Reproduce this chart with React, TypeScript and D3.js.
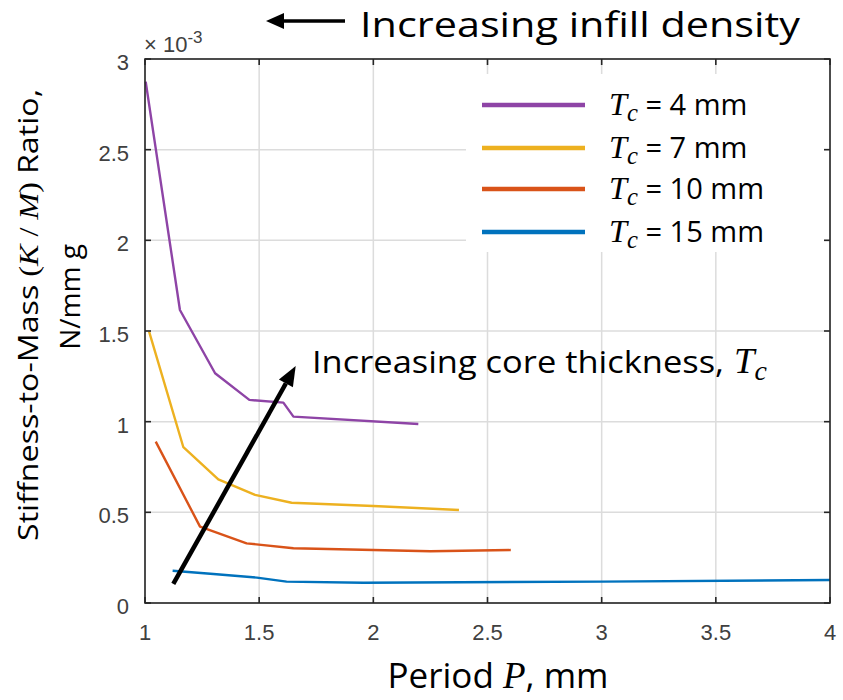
import React from "react";
import * as d3 from "d3";

const P4 = [1.003, 1.153, 1.307, 1.457, 1.606, 1.65, 2.197];
const K4 = [2.875, 1.616, 1.267, 1.12, 1.105, 1.028, 0.987];
const P7 = [1.018, 1.168, 1.321, 1.482, 1.642, 2.0, 2.375];
const K7 = [1.497, 0.859, 0.682, 0.596, 0.553, 0.535, 0.513];
const P10 = [1.047, 1.241, 1.445, 1.65, 2.25, 2.602];
const K10 = [0.89, 0.421, 0.329, 0.302, 0.285, 0.292];
const P15 = [1.121, 1.3, 1.49, 1.62, 1.956, 3.0, 4.0];
const K15 = [0.178, 0.16, 0.14, 0.118, 0.112, 0.118, 0.127];

const seriesNames = ["4", "7", "10", "15"];
const seriesColors = ["#8E44A6", "#EDB120", "#D95319", "#0072BD"];
const seriesP = [P4, P7, P10, P15];
const seriesK = [K4, K7, K10, K15];

const xTicks = [1, 1.5, 2, 2.5, 3, 3.5, 4];
const xTickLabels = ["1", "1.5", "2", "2.5", "3", "3.5", "4"];
const yTicks = [0, 0.5, 1, 1.5, 2, 2.5, 3];
const yTickLabels = ["0", "0.5", "1", "1.5", "2", "2.5", "3"];

// arrow annotation (data coords)
const arrowFrom = [1.124, 0.105];
const arrowTo = [1.66, 1.307];

const SANS = "'Open Sans', sans-serif";
const SERIF = "'Liberation Serif', 'DejaVu Serif', serif";
const TICKF = "'Liberation Sans', Arial, sans-serif";

export default function App() {
  const x = d3.scaleLinear().domain([1, 4]).range([145, 830]);
  const y = d3.scaleLinear().domain([0, 3]).range([603, 59]);
  const line = d3
    .line<[number, number]>()
    .x((d) => x(d[0]))
    .y((d) => y(d[1]));

  const [x0, x1] = x.range();
  const [y0, y1] = y.range();

  const ax1 = x(arrowFrom[0]);
  const ay1 = y(arrowFrom[1]);
  const ax2 = x(arrowTo[0]);
  const ay2 = y(arrowTo[1]);
  const ang = Math.atan2(ay2 - ay1, ax2 - ax1);
  const headL = 20;
  const headW = 8;
  const bx = ax2 - headL * Math.cos(ang);
  const by = ay2 - headL * Math.sin(ang);
  const px = -Math.sin(ang);
  const py = Math.cos(ang);

  const legendY = [105, 148, 189, 232];

  const Tc = (size: number) => (
    <>
      <tspan fontFamily={SERIF} fontStyle="italic" fontSize={size * 1.08}>
        T
      </tspan>
      <tspan fontFamily={SERIF} fontStyle="italic" fontSize={size * 0.82} dy={size * 0.2}>
        c
      </tspan>
    </>
  );

  return (
    <svg
      width={843}
      height={700}
      style={{ position: "absolute", left: 0, top: 0, background: "#fff" }}
    >
      <rect x={0} y={0} width={843} height={700} fill="#fff" />
      {/* grid */}
      {xTicks.map((t) => (
        <line key={"gx" + t} x1={x(t)} x2={x(t)} y1={y1} y2={y0} stroke="#dcdcdc" strokeWidth={1.5} />
      ))}
      {yTicks.map((t) => (
        <line key={"gy" + t} x1={x0} x2={x1} y1={y(t)} y2={y(t)} stroke="#dcdcdc" strokeWidth={1.5} />
      ))}
      {/* legend background */}
      <rect x={466} y={74} width={358} height={178} fill="#fff" />
      {/* series */}
      {seriesP.map((ps, i) => (
        <path
          key={"s" + i}
          d={line(ps.map((p, j) => [p, seriesK[i][j]] as [number, number])) || ""}
          fill="none"
          stroke={seriesColors[i]}
          strokeWidth={2.4}
          strokeLinejoin="round"
        />
      ))}
      {/* axes box */}
      <rect x={x0} y={y1} width={x1 - x0} height={y0 - y1} fill="none" stroke="#262626" strokeWidth={1.6} />
      {xTicks.map((t) => (
        <g key={"tx" + t}>
          <line x1={x(t)} x2={x(t)} y1={y0} y2={y0 - 6} stroke="#262626" strokeWidth={1.6} />
          <line x1={x(t)} x2={x(t)} y1={y1} y2={y1 + 6} stroke="#262626" strokeWidth={1.6} />
        </g>
      ))}
      {yTicks.map((t) => (
        <g key={"ty" + t}>
          <line x1={x0} x2={x0 + 6} y1={y(t)} y2={y(t)} stroke="#262626" strokeWidth={1.6} />
          <line x1={x1} x2={x1 - 6} y1={y(t)} y2={y(t)} stroke="#262626" strokeWidth={1.6} />
        </g>
      ))}
      {/* tick labels */}
      {xTicks.map((t, i) => (
        <text key={"lx" + t} x={x(t)} y={y0 + 37} textAnchor="middle" fontFamily={TICKF} fontSize={22} fill="#404040">
          {xTickLabels[i]}
        </text>
      ))}
      {yTicks.map((t, i) => (
        <text key={"ly" + t} x={x0 - 16} y={y(t) + 11} textAnchor="end" fontFamily={TICKF} fontSize={22} fill="#404040">
          {yTickLabels[i]}
        </text>
      ))}
      {/* exponent */}
      <text x={x0 - 1} y={52} fontFamily={TICKF} fontSize={22} fill="#404040">
        × 10
        <tspan fontSize={17} dy={-9}>
          -3
        </tspan>
      </text>
      {/* legend */}
      {seriesNames.map((n, i) => (
        <g key={"lg" + n}>
          <line x1={482} x2={585} y1={legendY[i]} y2={legendY[i]} stroke={seriesColors[i]} strokeWidth={4.5} />
          <text x={609} y={legendY[i] + 10} fontFamily={SANS} fontSize={29} fill="#000">
            {Tc(30)}
            <tspan dy={-6} fontFamily={SANS}>{" = " + n + " mm"}</tspan>
          </text>
        </g>
      ))}
      {/* top annotation */}
      <line x1={280} x2={345} y1={21} y2={21} stroke="#000" strokeWidth={3.5} />
      <polygon points="266,21 284,13 284,29" fill="#000" />
      <text x={360} y={37} fontFamily={SANS} fontSize={35} fill="#000" textLength={440} lengthAdjust="spacingAndGlyphs">
        Increasing infill density
      </text>
      {/* core thickness annotation */}
      <line x1={ax1} y1={ay1} x2={bx} y2={by} stroke="#000" strokeWidth={4.5} />
      <polygon
        points={`${ax2},${ay2} ${bx + px * headW},${by + py * headW} ${bx - px * headW},${by - py * headW}`}
        fill="#000"
      />
      <text x={312} y={373} fontFamily={SANS} fontSize={31} fill="#000">
        <tspan textLength={412} lengthAdjust="spacingAndGlyphs">Increasing core thickness,</tspan>
        <tspan dx={10}>{Tc(34)}</tspan>
      </text>
      {/* y label */}
      <g transform="translate(38,315) rotate(-90)">
        <text x={0} y={0} textAnchor="middle" fontFamily={SANS} fontSize={28} fill="#000" textLength={452} lengthAdjust="spacingAndGlyphs">
          Stiffness-to-Mass
          <tspan fontFamily={SERIF}> (</tspan>
          <tspan fontFamily={SERIF} fontStyle="italic">K</tspan>
          <tspan fontFamily={SERIF}> / </tspan>
          <tspan fontFamily={SERIF} fontStyle="italic">M</tspan>
          <tspan fontFamily={SERIF}>) </tspan>
          Ratio,
        </text>
      </g>
      <g transform="translate(80,297) rotate(-90)">
        <text x={0} y={0} textAnchor="middle" fontFamily={SANS} fontSize={28} fill="#000">
          N/mm g
        </text>
      </g>
      {/* x label */}
      <text x={498} y={688} textAnchor="middle" fontFamily={SANS} fontSize={35} fill="#000">
        Period{" "}
        <tspan fontFamily={SERIF} fontStyle="italic" fontSize={37}>P</tspan>, mm
      </text>
    </svg>
  );
}
